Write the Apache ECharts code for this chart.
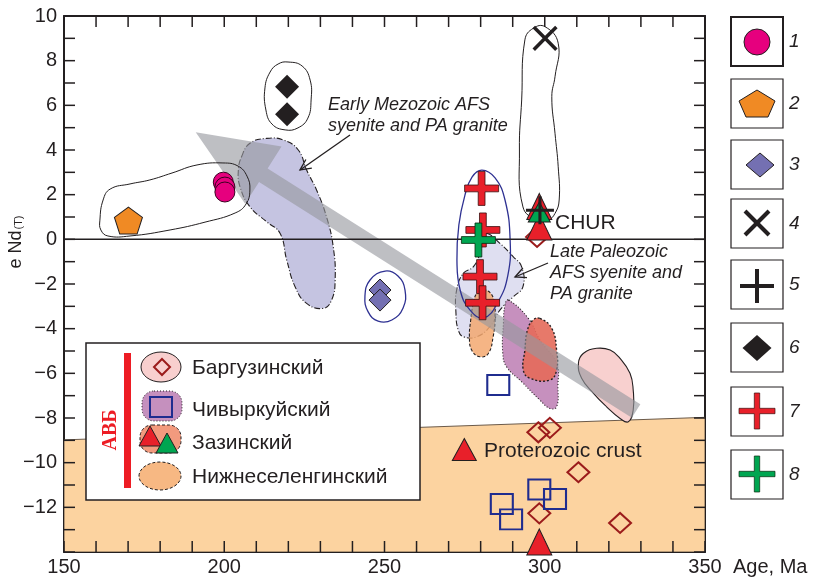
<!DOCTYPE html>
<html><head><meta charset="utf-8">
<script src="https://cdn.jsdelivr.net/npm/echarts@6/dist/echarts.min.js"></script>
<style>html,body{margin:0;padding:0;background:#fff}#c{width:813px;height:578px}</style>
</head><body><div id="c"></div>
<script>
// ---------- axes ----------
const ageRange = [150, 350];
const ageStep = 50;
const endRange = [-14, 10];
const endStep = 2;
const ageTicks = [150,160,170,180,190,200,210,220,230,240,250,260,270,280,290,300,310,320,330,340,350];
const endTicks = [-14,-13,-12,-11,-10,-9,-8,-7,-6,-5,-4,-3,-2,-1,0,1,2,3,4,5,6,7,8,9,10];

// ---------- point groups (Age, eNd) ----------
const group1Circles = [[199.7, 2.56], [200.2, 2.34], [200.2, 2.12]];
const group2Pentagon = [[170.1, 0.84]];
const group3Diamonds = [[248.6, -2.27], [248.6, -2.72]];
const group4Cross = [[300.1, 9.0]];
const group5Plus = [[298.5, 1.3]];
const group6Diamonds = [[219.6, 6.83], [219.6, 5.6]];
const group7RedPlus = [[280.3, 2.28], [280.7, 0.42], [279.8, -1.67], [280.6, -2.84]];
const group8GreenPlus = [[279.3, -0.03]];
const zazinRed = [[298.3, 1.47], [298.3, 0.55], [298.3, -13.55]];
const zazinGreen = [[298.3, 1.22]];
const barguzin = [[297.6, 0.11], [298.0, -8.64], [301.6, -8.44], [310.5, -10.43], [298.3, -12.27], [323.5, -12.7]];
const chivyrkui = [[285.5, -6.52], [286.6, -11.85], [289.5, -12.54], [298.3, -11.2], [303.2, -11.63]];
const proterozoicCrust = [[274.9, -9.41]];

// ---------- fields / outlines (Age, eNd) ----------
const crustField = [[150, -8.98], [350, -7.97], [350, -14], [150, -14]];
const trendArrow = [[191.1, 4.79], [328.5, -7.69]];
const regionEarlyMesozoic = [[205.4,3.70],[208.0,4.30],[213.2,4.52],[218.4,4.45],[223.1,4.00],[225.7,3.10],[228.8,2.21],[231.9,1.01],[234.0,-0.33],[234.6,-1.82],[233.5,-2.72],[230.9,-3.09],[225.7,-2.87],[222.1,-2.12],[219.5,-0.93],[217.4,0.27],[213.2,0.79],[208.0,1.46],[204.9,2.36],[204.4,3.10]];
const regionLatePaleozoic = [[281.9,0.27],[286.0,-0.18],[290.2,-0.78],[292.8,-1.23],[293.2,-2.12],[290.2,-2.57],[286.0,-3.17],[282.9,-3.91],[278.8,-4.36],[274.6,-4.36],[273.0,-4.06],[272.3,-3.31],[272.5,-2.27],[274.6,-1.52],[277.7,-1.23],[279.8,-0.63],[280.8,-0.03]];
const regionNizhneselenginsky = [[280.8,-2.24],[283.8,-2.57],[284.5,-3.47],[283.9,-4.36],[282.4,-5.11],[279.8,-5.26],[277.2,-4.96],[276.5,-4.36],[276.9,-3.61],[277.7,-2.87],[278.8,-2.42]];
const regionChivyrkui = [[288.6,-2.72],[294.9,-3.54],[298.5,-4.51],[303.7,-5.55],[304.1,-6.60],[303.7,-7.50],[301.6,-7.57],[298.5,-7.20],[292.8,-6.38],[288.1,-5.71],[286.9,-5.09],[287.1,-3.76],[287.6,-2.94]];
const regionZazin = [[298.5,-3.54],[302.2,-3.99],[303.7,-4.96],[303.7,-5.85],[301.6,-6.30],[295.4,-6.22],[293.3,-5.85],[293.8,-4.96],[294.6,-4.06],[296.4,-3.61]];
const regionBarguzin = [[312.0,-5.11],[316.2,-4.88],[320.4,-4.96],[323.5,-5.33],[326.6,-6.00],[327.6,-6.75],[327.6,-7.64],[326.1,-8.17],[323.5,-8.02],[319.3,-7.50],[315.2,-6.90],[311.5,-6.22],[310.5,-5.55]];
const outlineGroups12 = [[161.2,0.86],[162.2,1.76],[164.4,2.25],[170.6,2.48],[176.8,2.66],[183.7,2.97],[191.5,3.33],[199.6,3.42],[204.3,3.28],[207.1,2.83],[208.0,2.21],[206.8,1.58],[203.4,1.18],[194.0,0.77],[183.1,0.42],[170.6,0.15],[163.7,0.15],[161.5,0.42]];
const outlineGroup6 = [[219.9,7.94],[224.3,7.76],[226.8,7.13],[227.1,6.24],[226.1,5.43],[223.0,4.99],[219.0,4.90],[214.9,5.16],[213.0,5.79],[212.7,6.78],[214.3,7.49],[216.8,7.85]];
const outlineGroup3 = [[250.2,-1.42],[254.2,-1.64],[256.4,-2.27],[255.8,-3.07],[252.3,-3.61],[248.0,-3.66],[244.9,-3.25],[243.9,-2.54],[245.5,-1.82]];
const outlineGroup7 = [[280.4,3.10],[284.5,2.75],[287.6,1.76],[289.2,-0.03],[288.5,-1.60],[285.4,-2.81],[281.0,-3.52],[276.7,-3.17],[273.6,-2.27],[272.6,-0.93],[273.2,0.64],[275.1,1.98],[277.3,2.79]];
const outlineGroup4 = [[300.1,9.52],[304.2,8.78],[303.2,7.28],[302.2,6.39],[303.2,4.75],[304.2,3.25],[304.5,1.76],[303.2,1.16],[301.0,0.86],[297.6,0.86],[293.2,1.45],[292.1,4.00],[292.8,6.24],[293.8,8.93],[296.4,9.45]];

// ---------- text ----------
const legendItems = ['Баргузинский', 'Чивыркуйский', 'Зазинский', 'Нижнеселенгинский'];
const legendNumbers = ['1', '2', '3', '4', '5', '6', '7', '8'];

const INK = '#231F20';
const FONT = '"Liberation Sans", Arial, sans-serif';
const PLUS = 'path://M-1,-5L1,-5L1,-1L5,-1L5,1L1,1L1,5L-1,5L-1,1L-5,1L-5,-1L-1,-1Z';
const THINPLUS = 'path://M-0.55,-5L0.55,-5L0.55,-0.55L5,-0.55L5,0.55L0.55,0.55L0.55,5L-0.55,5L-0.55,0.55L-5,0.55L-5,-0.55L-0.55,-0.55Z';
const PENTA = 'path://M0,-10L9.51,-3.09L5.88,8.09L-5.88,8.09L-9.51,-3.09Z';

function area(pts, style, smooth, z) {
  return {
    type: 'custom', silent: true, clip: true, z: z || 2,
    data: [pts[0]],
    renderItem: function (params, api) {
      return { type: 'polygon', shape: { points: pts.map(p => api.coord(p)), smooth: smooth }, style: style };
    }
  };
}
function scatter(data, symbol, size, itemStyle, extra) {
  return Object.assign({ type: 'scatter', data: data, symbol: symbol, symbolSize: size,
    itemStyle: Object.assign({ opacity: 1 }, itemStyle), silent: true, z: 10 }, extra || {});
}

const arrowSeries = {
  type: 'custom', silent: true, z: 4, data: [trendArrow[0]],
  renderItem: function (params, api) {
    const a = api.coord(trendArrow[0]), b = api.coord(trendArrow[1]);
    const dx = b[0] - a[0], dy = b[1] - a[1], L = Math.hypot(dx, dy);
    const ux = dx / L, uy = dy / L, nx = -uy, ny = ux;
    const hl = 80, hh = 34, sh = 8;
    const P = (t, s) => [a[0] + ux * t + nx * s, a[1] + uy * t + ny * s];
    return { type: 'polygon', shape: { points: [a, P(hl, hh), P(hl, sh), P(L, sh), P(L, -sh), P(hl, -sh), P(hl, -hh)] },
      style: { fill: 'rgba(150,152,158,0.62)' } };
  }
};

// inward ticks on all four sides, placed through the axes' scales
const TL = 11;
const tickStyle = { stroke: INK, lineWidth: 1.5 };
const xTickSeries = {
  type: 'custom', silent: true, clip: false, z: 8,
  data: ageTicks.map(v => [v, endRange[0]]),
  renderItem: function (params, api) {
    const b = api.coord([api.value(0), endRange[0]]), t = api.coord([api.value(0), endRange[1]]);
    return { type: 'group', children: [
      { type: 'line', shape: { x1: b[0], y1: b[1], x2: b[0], y2: b[1] - TL }, style: tickStyle },
      { type: 'line', shape: { x1: t[0], y1: t[1], x2: t[0], y2: t[1] + TL }, style: tickStyle }
    ] };
  }
};
const yTickSeries = {
  type: 'custom', silent: true, clip: false, z: 8,
  data: endTicks.map(v => [ageRange[0], v]),
  renderItem: function (params, api) {
    const l = api.coord([ageRange[0], api.value(1)]), r = api.coord([ageRange[1], api.value(1)]);
    return { type: 'group', children: [
      { type: 'line', shape: { x1: l[0], y1: l[1], x2: l[0] + TL, y2: l[1] }, style: tickStyle },
      { type: 'line', shape: { x1: r[0], y1: r[1], x2: r[0] - TL, y2: r[1] }, style: tickStyle }
    ] };
  }
};

function axisCommon(showLabel) {
  return {
    axisLine: { show: true, onZero: false, lineStyle: { color: INK, width: 2 } },
    axisTick: { show: false }, minorTick: { show: false },
    splitLine: { show: false }, minorSplitLine: { show: false },
    axisLabel: { show: showLabel, color: INK, fontSize: 20, fontFamily: FONT }
  };
}
const xBase = { type: 'value', min: ageRange[0], max: ageRange[1], interval: ageStep };
const yBase = { type: 'value', min: endRange[0], max: endRange[1], interval: endStep };
const fmtY = v => (v < 0 ? '\u2212' + Math.abs(v) : String(v));

// ---------- graphics (legends, annotations) ----------
const G = [];
function txt(x, y, text, size, opts) {
  G.push(Object.assign({ type: 'text', x: x, y: y, z: 100,
    style: Object.assign({ text: text, font: (opts && opts.font) || (size + 'px ' + FONT), fill: INK, textAlign: 'left', textVerticalAlign: 'middle' }, (opts && opts.style) || {}) }, (opts && opts.el) || {}));
}
function openArrow(x1, y1, x2, y2) {
  G.push({ type: 'line', z: 100, shape: { x1: x1, y1: y1, x2: x2, y2: y2 }, style: { stroke: INK, lineWidth: 1.3 } });
  const L = Math.hypot(x2 - x1, y2 - y1), ux = (x2 - x1) / L, uy = (y2 - y1) / L;
  const w = 12, ang = 0.45;
  const r = (s) => [x2 - w * (ux * Math.cos(s) - uy * Math.sin(s)), y2 - w * (ux * Math.sin(s) + uy * Math.cos(s))];
  G.push({ type: 'polyline', z: 100, shape: { points: [r(ang), [x2, y2], r(-ang)] }, style: { stroke: INK, lineWidth: 1.3, fill: null } });
}
function plusPts(cx, cy, a, t) {
  return [[cx - t, cy - a], [cx + t, cy - a], [cx + t, cy - t], [cx + a, cy - t], [cx + a, cy + t], [cx + t, cy + t], [cx + t, cy + a], [cx - t, cy + a], [cx - t, cy + t], [cx - a, cy + t], [cx - a, cy - t], [cx - t, cy - t]];
}

// y-axis title
G.push({ type: 'text', x: 16, y: 242, rotation: Math.PI / 2, z: 100,
  style: { text: '{a|e Nd}{b|(T)}', textAlign: 'center', textVerticalAlign: 'middle',
    rich: { a: { fontSize: 18, fontFamily: FONT, fill: INK }, b: { fontSize: 11, fontFamily: FONT, fill: INK, padding: [6, 0, 0, 1] } } } });
txt(733, 567, 'Age, Ma', 20);

// annotations
txt(328, 105, 'Early Mezozoic AFS', 18, { font: 'italic 18px ' + FONT });
txt(328, 126, 'syenite and PA granite', 18, { font: 'italic 18px ' + FONT });
openArrow(350, 135, 300, 170);
txt(550, 252, 'Late Paleozoic', 18, { font: 'italic 18px ' + FONT });
txt(550, 273, 'AFS syenite and', 18, { font: 'italic 18px ' + FONT });
txt(550, 294, 'PA granite', 18, { font: 'italic 18px ' + FONT });
openArrow(548, 263, 515, 277);
txt(555, 223, 'CHUR', 21);
txt(484, 451, 'Proterozoic crust', 21);

// inner legend
G.push({ type: 'rect', z: 99, shape: { x: 86, y: 343, width: 334, height: 157 }, style: { fill: '#fff', stroke: INK, lineWidth: 1.5 } });
G.push({ type: 'rect', z: 100, shape: { x: 124, y: 353, width: 7, height: 135 }, style: { fill: '#ED1C24' } });
G.push({ type: 'text', x: 111, y: 430, rotation: Math.PI / 2, z: 100,
  style: { text: 'АВБ', font: 'bold 20px "Liberation Serif", "DejaVu Serif", serif', fill: '#ED1C24', textAlign: 'center', textVerticalAlign: 'middle' } });
G.push({ type: 'ellipse', z: 100, shape: { cx: 161, cy: 367, rx: 20, ry: 15 }, style: { fill: '#F8CFCE', stroke: INK, lineWidth: 1 } });
G.push({ type: 'polygon', z: 101, shape: { points: [[162, 359], [170, 367], [162, 375], [154, 367]] }, style: { fill: null, stroke: '#9B1B1B', lineWidth: 2 } });
G.push({ type: 'rect', z: 100, shape: { x: 142, y: 391, width: 40, height: 30, r: 12 }, style: { fill: '#C590BE', stroke: INK, lineWidth: 1, lineDash: [1, 2] } });
G.push({ type: 'rect', z: 101, shape: { x: 150, y: 397, width: 22, height: 20 }, style: { fill: null, stroke: '#1F2C8F', lineWidth: 2 } });
G.push({ type: 'rect', z: 100, shape: { x: 140, y: 425, width: 41, height: 28, r: 12 }, style: { fill: '#F29A7E', stroke: INK, lineWidth: 1, lineDash: [3, 2] } });
G.push({ type: 'polygon', z: 101, shape: { points: [[150, 426], [161, 446], [139, 446]] }, style: { fill: '#E8202A', stroke: INK, lineWidth: 1 } });
G.push({ type: 'polygon', z: 102, shape: { points: [[167, 433], [178, 453], [156, 453]] }, style: { fill: '#00A651', stroke: INK, lineWidth: 1 } });
G.push({ type: 'ellipse', z: 100, shape: { cx: 160, cy: 476, rx: 21, ry: 14 }, style: { fill: '#F7B883', stroke: INK, lineWidth: 1, lineDash: [3, 2] } });
const innerRows = [368, 410, 443, 477];
legendItems.forEach((s, i) => txt(192, innerRows[i], s, 21));

// right legend
const boxTops = [17, 79, 140, 199, 260, 323, 387, 450];
boxTops.forEach((t, i) => {
  G.push({ type: 'rect', z: 100, shape: { x: 731, y: t, width: 52, height: 49 }, style: { fill: '#fff', stroke: INK, lineWidth: i === 0 ? 2 : 1.2 } });
  txt(789, t + 25, legendNumbers[i], 19, { font: 'italic 19px ' + FONT });
});
const cx = 757;
G.push({ type: 'circle', z: 101, shape: { cx: cx, cy: 42, r: 13 }, style: { fill: '#E6007E', stroke: INK, lineWidth: 1 } });
G.push({ type: 'polygon', z: 101, shape: { points: [[cx, 90], [cx + 18, 101], [cx + 11, 117], [cx - 11, 117], [cx - 18, 101]] }, style: { fill: '#F08A24', stroke: INK, lineWidth: 1 } });
G.push({ type: 'polygon', z: 101, shape: { points: [[cx + 3, 153], [cx + 17, 165], [cx + 3, 177], [cx - 11, 165]] }, style: { fill: '#7470B2', stroke: INK, lineWidth: 1 } });
G.push({ type: 'line', z: 101, shape: { x1: cx - 12, y1: 211, x2: cx + 12, y2: 235 }, style: { stroke: INK, lineWidth: 4 } });
G.push({ type: 'line', z: 101, shape: { x1: cx - 12, y1: 235, x2: cx + 12, y2: 211 }, style: { stroke: INK, lineWidth: 4 } });
G.push({ type: 'line', z: 101, shape: { x1: cx - 17, y1: 286, x2: cx + 17, y2: 286 }, style: { stroke: INK, lineWidth: 4 } });
G.push({ type: 'line', z: 101, shape: { x1: cx, y1: 269, x2: cx, y2: 303 }, style: { stroke: INK, lineWidth: 4 } });
G.push({ type: 'polygon', z: 101, shape: { points: [[cx, 335], [cx + 14.5, 348], [cx, 361], [cx - 14.5, 348]] }, style: { fill: INK } });
G.push({ type: 'polygon', z: 101, shape: { points: plusPts(cx, 411, 18, 2.7) }, style: { fill: '#E8202A', stroke: '#3a1010', lineWidth: 0.7 } });
G.push({ type: 'polygon', z: 101, shape: { points: plusPts(cx, 474, 18, 2.7) }, style: { fill: '#00A651', stroke: '#0a2a10', lineWidth: 0.7 } });

const xLabel = { show: true, color: INK, fontSize: 20, fontFamily: FONT, margin: 5 };
const yLabel = { show: true, color: INK, fontSize: 20, fontFamily: FONT, margin: 7, showMinLabel: false, formatter: fmtY };

const option = {
  animation: false,
  backgroundColor: '#fff',
  grid: { left: 64, right: 108, top: 16, bottom: 26, containLabel: false, outerBoundsMode: 'none' },
  xAxis: [
    Object.assign({}, xBase, axisCommon(true), { position: 'bottom', axisLabel: xLabel }),
    Object.assign({}, xBase, axisCommon(false), { position: 'top' })
  ],
  yAxis: [
    Object.assign({}, yBase, axisCommon(true), { position: 'left', axisLabel: yLabel }),
    Object.assign({}, yBase, axisCommon(false), { position: 'right' })
  ],
  graphic: G,
  series: [
    area(crustField, { fill: '#FCD3A0', stroke: '#6b5a4a', lineWidth: 1 }, 0, 1),
    area(regionEarlyMesozoic, { fill: '#C5C4E1', stroke: INK, lineWidth: 1.1, lineDash: [6, 2, 1, 2] }, 0.45, 2),
    area(regionLatePaleozoic, { fill: 'rgba(212,212,236,0.75)', stroke: INK, lineWidth: 1.1, lineDash: [6, 2, 1, 2] }, 0.45, 2),
    area(regionNizhneselenginsky, { fill: 'rgba(243,168,112,0.85)', stroke: INK, lineWidth: 1.1, lineDash: [3, 2] }, 0.45, 2),
    area(regionChivyrkui, { fill: '#C690BE', stroke: INK, lineWidth: 1.1, lineDash: [1, 2] }, 0.45, 2),
    area(regionZazin, { fill: 'rgba(228,106,90,0.9)', stroke: INK, lineWidth: 1.4, lineDash: [2, 2] }, 0.45, 2),
    area(regionBarguzin, { fill: '#F8D0CF', stroke: INK, lineWidth: 1.1 }, 0.45, 2),
    arrowSeries,
    area(outlineGroups12, { fill: null, stroke: INK, lineWidth: 1 }, 0.45, 5),
    area(outlineGroup6, { fill: null, stroke: INK, lineWidth: 1 }, 0.45, 5),
    area(outlineGroup3, { fill: null, stroke: '#2E3192', lineWidth: 1.3 }, 0.45, 5),
    area(outlineGroup7, { fill: null, stroke: '#2E3192', lineWidth: 1.3 }, 0.45, 5),
    area(outlineGroup4, { fill: null, stroke: INK, lineWidth: 1 }, 0.45, 5),
    { type: 'line', data: [[ageRange[0], 0], [ageRange[1], 0]], symbol: 'none', silent: true, z: 6, lineStyle: { color: INK, width: 1.5 } },
    xTickSeries,
    yTickSeries,
    scatter(barguzin, 'diamond', [22, 20], { color: 'rgba(255,255,255,0)', borderColor: '#9B1B1B', borderWidth: 2 }),
    scatter(chivyrkui, 'rect', [22, 20], { color: 'rgba(255,255,255,0)', borderColor: '#1F2C8F', borderWidth: 2 }),
    scatter(zazinRed, 'triangle', [25, 26], { color: '#E8202A', borderColor: INK, borderWidth: 1 }),
    scatter(proterozoicCrust, 'triangle', [24, 22], { color: '#E8202A', borderColor: INK, borderWidth: 1 }),
    scatter(zazinGreen, 'triangle', [22, 20], { color: '#00A651', borderColor: INK, borderWidth: 1 }),
    scatter(group5Plus, THINPLUS, 28, { color: INK }),
    scatter(group1Circles, 'circle', 20, { color: '#E6007E', borderColor: '#3a0020', borderWidth: 1 }),
    scatter(group2Pentagon, PENTA, [28, 27], { color: '#F08A24', borderColor: INK, borderWidth: 1 }),
    scatter(group3Diamonds, 'diamond', 22, { color: '#7470B2', borderColor: INK, borderWidth: 1 }),
    scatter(group4Cross, THINPLUS, 32, { color: INK }, { symbolRotate: 45 }),
    scatter(group6Diamonds, 'diamond', [24, 24], { color: INK }),
    scatter(group7RedPlus, PLUS, 34, { color: '#E8202A', borderColor: '#3a1010', borderWidth: 0.8 }),
    scatter(group8GreenPlus, PLUS, 34, { color: '#00A651', borderColor: '#0a2a10', borderWidth: 0.8 })
  ]
};
const chart = echarts.init(document.getElementById('c'));
chart.setOption(option);
</script>
</body></html>
